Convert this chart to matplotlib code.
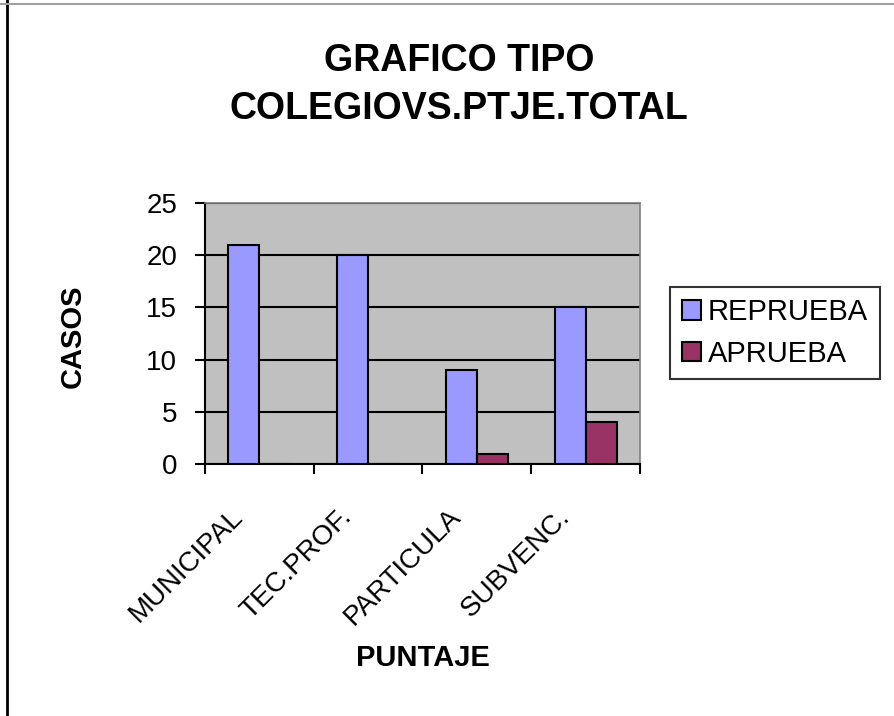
import numpy as np
import matplotlib

matplotlib.use("Agg")
import matplotlib.pyplot as plt
from matplotlib.lines import Line2D
from matplotlib.ticker import FixedLocator, NullFormatter
from matplotlib.transforms import ScaledTranslation

plt.rcParams["font.family"] = ["Liberation Sans", "DejaVu Sans"]

# data
categories = ["MUNICIPAL", "TEC.PROF.", "PARTICULA", "SUBVENC."]
reprueba = [21, 20, 9, 15]
aprueba = [0, 0, 1, 4]
series_names = ["REPRUEBA", "APRUEBA"]
y_ticks = [0, 5, 10, 15, 20, 25]

W, H = 895, 716
fig = plt.figure(figsize=(W / 100, H / 100), dpi=100)
fig.patch.set_facecolor("white")

# plot area in pixel coordinates of the reference
x0, x1, y0, y1 = 205, 640, 203, 464
ax = fig.add_axes([x0 / W, 1 - y1 / H, (x1 - x0) / W, (y1 - y0) / H])
ax.set_facecolor("#C0C0C0")

x = np.arange(len(categories))
bw = 0.285
ax.bar(x - bw / 2, reprueba, bw, color="#9999FF", edgecolor="black", lw=1.5,
       zorder=3, label=series_names[0])
ax.bar(x + bw / 2, aprueba, bw, color="#993366", edgecolor="black", lw=1.5,
       zorder=3, label=series_names[1])

ax.set_ylim(0, 25)
ax.set_xlim(-0.5, len(categories) - 0.5)
ax.set_yticks(y_ticks)
ax.tick_params(axis="y", labelsize=20, length=7, width=1.5, direction="out", pad=13)
ax.yaxis.grid(True, color="black", lw=1.5, zorder=1)
ax.set_axisbelow(True)

# categories labelled at centres, ticks drawn at the boundaries
ax.set_xticks(x)
ax.set_xticklabels(categories, rotation=45, ha="right", va="center",
                   rotation_mode="anchor", fontsize=20)
ax.tick_params(axis="x", which="major", length=0, pad=35)
shift = ScaledTranslation(-0.2, 0, fig.dpi_scale_trans)
for lab in ax.get_xticklabels():
    lab.set_transform(lab.get_transform() + shift)
ax.xaxis.set_minor_locator(FixedLocator(np.arange(len(categories) + 1) - 0.5))
ax.xaxis.set_minor_formatter(NullFormatter())
ax.tick_params(axis="x", which="minor", length=7, width=1.5, direction="out")

for side in ("left", "bottom"):
    ax.spines[side].set_color("black")
    ax.spines[side].set_linewidth(1.5)
for side in ("top", "right"):
    ax.spines[side].set_color("#808080")
    ax.spines[side].set_linewidth(1.2)

ax.set_ylabel("CASOS", fontsize=21, fontweight="bold")
ax.yaxis.set_label_coords(-0.272, 0.49)
ax.set_xlabel("PUNTAJE", fontsize=21, fontweight="bold")
ax.xaxis.set_label_coords(0.5, -0.69)

fig.text(0.513, 1 - 85 / H, "GRAFICO TIPO\nCOLEGIOVS.PTJE.TOTAL", ha="center",
         va="center", fontsize=27, fontweight="bold", linespacing=1.4)

leg = fig.legend(loc="center", bbox_to_anchor=(775 / W, 1 - 333 / H), fontsize=21,
                 frameon=True, fancybox=False, shadow=False, handlelength=0.65,
                 handleheight=0.65, handletextpad=0.25, borderpad=0.4,
                 labelspacing=0.45, borderaxespad=0)
leg.get_frame().set_edgecolor("black")
leg.get_frame().set_linewidth(1.5)

# outer frame bits of the original screenshot
fig.add_artist(Line2D([7 / W, 7 / W], [0, 1], color="black", lw=2))
fig.add_artist(Line2D([0, 1], [1 - 4 / H, 1 - 4 / H], color="#A0A0A0", lw=1.5))

fig.savefig("out.png", dpi=100)
